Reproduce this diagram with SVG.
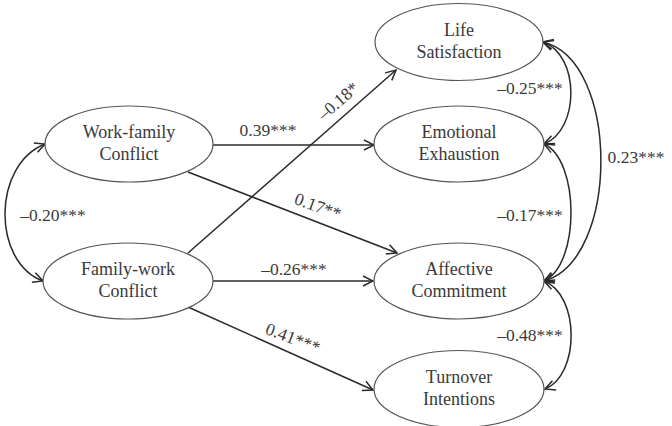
<svg xmlns="http://www.w3.org/2000/svg" width="672" height="426" viewBox="0 0 672 426">
<defs>
<style>
.node ellipse{fill:#fff;stroke:#555;stroke-width:1.2}
text{font-family:"Liberation Serif","Times New Roman",serif;font-size:17.5px;fill:#3a3a3a}
.node text{font-size:18px}
.nt{text-anchor:middle}
.c path,.c line{fill:none;stroke:#2a2a2a;stroke-width:1.5}
</style>
<marker id="ah" viewBox="0 0 12 12" refX="11" refY="6" markerWidth="12" markerHeight="12" markerUnits="userSpaceOnUse" orient="auto-start-reverse">
<path d="M1,1 L11,6 L1,11" fill="none" stroke="#2a2a2a" stroke-width="1.5"/>
</marker>
</defs>
<rect width="672" height="426" fill="#fff"/>
<g class="c" id="connectors">
<line x1="213" y1="145" x2="374" y2="145" marker-end="url(#ah)"/>
<line x1="188" y1="172" x2="397" y2="253" marker-end="url(#ah)"/>
<line x1="188" y1="253" x2="396" y2="70" marker-end="url(#ah)"/>
<line x1="213" y1="281" x2="373" y2="281" marker-end="url(#ah)"/>
<line x1="188" y1="307" x2="373" y2="390" marker-end="url(#ah)"/>
<path d="M45,144 C-8,165 -8,262 43,281" marker-start="url(#ah)" marker-end="url(#ah)"/>
<path d="M543,42 C580,55 580,130 544,144" marker-start="url(#ah)" marker-end="url(#ah)"/>
<path d="M544,144 C580,160 580,265 544,281" marker-start="url(#ah)" marker-end="url(#ah)"/>
<path d="M543,42 C620,60 620,260 544,281" marker-start="url(#ah)" marker-end="url(#ah)"/>
<path d="M544,281 C580,295 580,375 545,389" marker-start="url(#ah)" marker-end="url(#ah)"/>
</g>
<g id="labels">
<text x="268" y="136" class="nt">0.39***</text>
<text class="nt" transform="translate(338,101) rotate(-41)" y="6">–0.18*</text>
<text class="nt" transform="translate(318,206) rotate(20)" y="6">0.17**</text>
<text x="294" y="275" class="nt">–0.26***</text>
<text class="nt" transform="translate(293,338) rotate(21)" y="6">0.41***</text>
<text x="53" y="221" class="nt">–0.20***</text>
<text x="530" y="94" class="nt">–0.25***</text>
<text x="636" y="163" class="nt">0.23***</text>
<text x="530" y="221" class="nt">–0.17***</text>
<text x="530" y="341" class="nt">–0.48***</text>
</g>
<g class="node" id="wf"><ellipse cx="129" cy="144" rx="84" ry="38"/><text class="nt" x="129" y="138">Work-family</text><text class="nt" x="129" y="160">Conflict</text></g>
<g class="node" id="fw"><ellipse cx="128" cy="281" rx="85" ry="38"/><text class="nt" x="128" y="275">Family-work</text><text class="nt" x="128" y="297">Conflict</text></g>
<g class="node" id="ls"><ellipse cx="459" cy="42" rx="84" ry="38.5"/><text class="nt" x="459" y="36">Life</text><text class="nt" x="459" y="58">Satisfaction</text></g>
<g class="node" id="ee"><ellipse cx="459" cy="144" rx="85" ry="38"/><text class="nt" x="459" y="138">Emotional</text><text class="nt" x="459" y="160">Exhaustion</text></g>
<g class="node" id="ac"><ellipse cx="459" cy="281" rx="85" ry="38"/><text class="nt" x="459" y="275">Affective</text><text class="nt" x="459" y="297">Commitment</text></g>
<g class="node" id="ti"><ellipse cx="459" cy="389" rx="85" ry="38.5"/><text class="nt" x="459" y="383">Turnover</text><text class="nt" x="459" y="405">Intentions</text></g>
</svg>
